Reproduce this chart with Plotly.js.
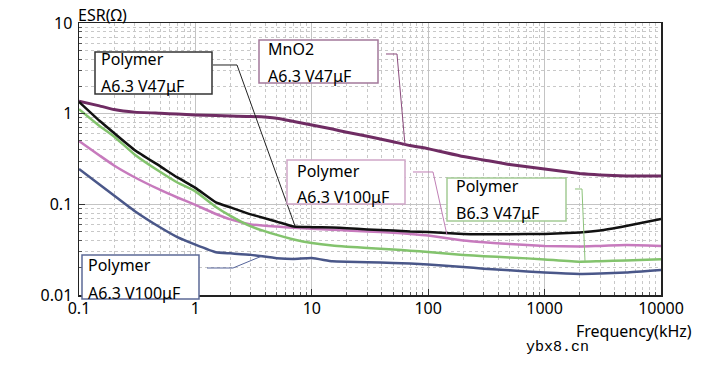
<!DOCTYPE html>
<html>
<head>
<meta charset="utf-8">
<script src="https://cdn.plot.ly/plotly-3.0.1.min.js"></script>
<style>html,body{margin:0;padding:0;background:#fff;}#chart{width:703px;height:373px;}</style>
</head>
<body>
<div id="chart"></div>
<script>
// ---- data ----
const freqKHz = [0.1, 0.15, 0.2, 0.3, 0.5, 0.7, 1, 1.5, 2, 3, 5, 7, 10, 15, 20, 30, 50, 70, 100, 200, 300, 500, 1000, 2000, 3000, 5000, 10000];
const esrMnO2_A63V47 = [1.37, 1.22, 1.11, 1.04, 1.01, 0.99, 0.967, 0.953, 0.94, 0.931, 0.889, 0.82, 0.75, 0.676, 0.624, 0.564, 0.491, 0.445, 0.411, 0.337, 0.309, 0.275, 0.245, 0.219, 0.211, 0.206, 0.206];
const esrPolymer_A63V47 = [1.35, 0.834, 0.612, 0.398, 0.262, 0.198, 0.152, 0.105, 0.0925, 0.0774, 0.0645, 0.057, 0.056, 0.0555, 0.0545, 0.0529, 0.0513, 0.0502, 0.0496, 0.0472, 0.0469, 0.0468, 0.0472, 0.049, 0.0515, 0.0578, 0.069];
const esrPolymer_B63V47 = [1.12, 0.731, 0.561, 0.355, 0.227, 0.174, 0.139, 0.0935, 0.0745, 0.057, 0.046, 0.041, 0.0375, 0.0351, 0.0341, 0.033, 0.0318, 0.0308, 0.0298, 0.0277, 0.0268, 0.026, 0.0247, 0.0233, 0.0236, 0.024, 0.0248];
const esrPolymer_A63V100a = [0.50, 0.346, 0.268, 0.199, 0.144, 0.119, 0.0985, 0.0783, 0.0682, 0.060, 0.0568, 0.0552, 0.0538, 0.0525, 0.0515, 0.0502, 0.0486, 0.0472, 0.0454, 0.0398, 0.0381, 0.0366, 0.0348, 0.0342, 0.0348, 0.0355, 0.0348];
const esrPolymer_A63V100b = [0.245, 0.166, 0.125, 0.0845, 0.0555, 0.0435, 0.0359, 0.0296, 0.0288, 0.0277, 0.0255, 0.025, 0.0256, 0.0235, 0.0232, 0.023, 0.0226, 0.0223, 0.0217, 0.0204, 0.0195, 0.0187, 0.0177, 0.0171, 0.0173, 0.0177, 0.0189];

const xTickVals = [0.1, 1, 10, 100, 1000, 10000];
const xTickText = ['0.1', '1', '10', '100', '1000', '10000'];
const yTickVals = [0.01, 0.1, 1, 10];
const yTickText = ['0.01', '0.1', '1', '10'];

const labelLine1 = ['Polymer', 'MnO2', 'Polymer', 'Polymer', 'Polymer'];
const labelLine2 = ['A6.3 V47μF', 'A6.3 V47μF', 'A6.3 V100μF', 'B6.3 V47μF', 'A6.3 V100μF'];

// ---- layout helpers ----
const W = 703, H = 373;
const M = {l: 79, r: 42, t: 23, b: 78};
const PW = W - M.l - M.r, PH = H - M.t - M.b;
const px = x => (x - M.l) / PW;
const py = y => (H - M.b - y) / PH;

const COL = {
  mno2: '#6f2c63', black: '#111111', green: '#83c36d', pink: '#c77abd', blue: '#4a5789'
};
const FONT = '"Noto Sans", "Open Sans", sans-serif';

const traces = [
  {x: freqKHz, y: esrMnO2_A63V47, color: COL.mno2, w: 3},
  {x: freqKHz, y: esrPolymer_A63V100a, color: COL.pink, w: 2.5},
  {x: freqKHz, y: esrPolymer_B63V47, color: COL.green, w: 2.5},
  {x: freqKHz, y: esrPolymer_A63V100b, color: COL.blue, w: 2.5},
  {x: freqKHz, y: esrPolymer_A63V47, color: COL.black, w: 2.5}
].map(t => ({
  type: 'scatter', mode: 'lines', x: t.x, y: t.y,
  line: {color: t.color, width: t.w, shape: 'spline', smoothing: 0.4},
  hoverinfo: 'skip', showlegend: false
}));

// label boxes: box [left, top, right, bottom], border colour, text position, leader path points, leader colour
const boxes = [
  {b: [95, 52, 212, 94], c: '#333333', tx: 99, t1: 59, t2: 86, lead: [[213, 65], [237, 65], [295, 226]], lc: '#222222'},
  {b: [259, 40, 378, 83], c: '#a3789a', tx: 266, t1: 49, t2: 76, lead: [[386, 54], [397, 54], [405, 145]], lc: '#8a4a7c'},
  {b: [287, 160, 405, 204], c: '#cfa6c8', tx: 295, t1: 171, t2: 197, lead: [[413, 172], [433, 172], [447, 235]], lc: '#c07fb5'},
  {b: [447, 178, 566, 221], c: '#a4cc95', tx: 454, t1: 186, t2: 213, lead: [[575, 189], [582, 189], [585, 261]], lc: '#8cc27a'},
  {b: [82, 255, 199, 299], c: '#5c6a96', tx: 86, t1: 265, t2: 293, lead: [[207, 268], [233, 268], [262, 256]], lc: '#56659a'}
];

const shapes = [];
const annotations = [];
boxes.forEach((bx, i) => {
  const p = bx.lead.map((q, k) => (k ? 'L' : 'M') + px(q[0]).toFixed(5) + ',' + py(q[1]).toFixed(5)).join(' ');
  shapes.push({type: 'path', xref: 'paper', yref: 'paper', path: p, line: {color: bx.lc, width: 1}, layer: 'above'});
  shapes.push({type: 'rect', xref: 'paper', yref: 'paper', x0: px(bx.b[0]), x1: px(bx.b[2]), y0: py(bx.b[3]), y1: py(bx.b[1]),
    line: {color: bx.c, width: 1.5}, fillcolor: '#ffffff', layer: 'above'});
  annotations.push({xref: 'paper', yref: 'paper', x: px(bx.tx), y: py(bx.t1), xanchor: 'left', yanchor: 'middle',
    text: labelLine1[i], showarrow: false, font: {family: FONT, size: 16, color: '#000'}});
  annotations.push({xref: 'paper', yref: 'paper', x: px(bx.tx), y: py(bx.t2), xanchor: 'left', yanchor: 'middle',
    text: labelLine2[i], showarrow: false, font: {family: FONT, size: 16, color: '#000'}});
});
annotations.push({xref: 'paper', yref: 'paper', x: px(76), y: py(15), xanchor: 'left', yanchor: 'middle',
  text: 'ESR(Ω)', showarrow: false, font: {family: FONT, size: 16, color: '#000'}});
annotations.push({xref: 'paper', yref: 'paper', x: px(694), y: py(331), xanchor: 'right', yanchor: 'middle',
  text: 'Frequency(kHz)', showarrow: false, font: {family: FONT, size: 16, color: '#000'}});
annotations.push({xref: 'paper', yref: 'paper', x: px(524), y: py(347), xanchor: 'left', yanchor: 'middle',
  text: 'ybx8.cn', showarrow: false, font: {family: '"Liberation Mono", "DejaVu Sans Mono", monospace', size: 15, color: '#000'}});

const axisCommon = {
  type: 'log', showline: true, mirror: true, linecolor: '#222', linewidth: 1.5,
  showgrid: true, gridcolor: '#c4c4c4', gridwidth: 1,
  ticks: 'inside', ticklen: 6, tickcolor: '#333', tickwidth: 1,
  tickfont: {family: FONT, size: 16, color: '#000'},
  zeroline: false, fixedrange: true,
  minor: {dtick: 'D1', showgrid: true, gridcolor: '#c8c8c8', griddash: 'dot', gridwidth: 1,
          ticks: 'inside', ticklen: 3, tickcolor: '#555'}
};

const layout = {
  width: W, height: H,
  margin: {l: M.l, r: M.r, t: M.t, b: M.b, pad: 0},
  paper_bgcolor: '#ffffff', plot_bgcolor: '#ffffff',
  showlegend: false,
  xaxis: Object.assign({}, axisCommon, {range: [-1, 4], tickmode: 'array', tickvals: xTickVals, ticktext: xTickText, ticklabelstandoff: -2}),
  yaxis: Object.assign({}, axisCommon, {range: [-2, 1], tickmode: 'array', tickvals: yTickVals, ticktext: yTickText, ticklabelstandoff: 2}),
  shapes: shapes,
  annotations: annotations
};

Plotly.newPlot('chart', traces, layout, {staticPlot: true, displayModeBar: false});
</script>
</body>
</html>
